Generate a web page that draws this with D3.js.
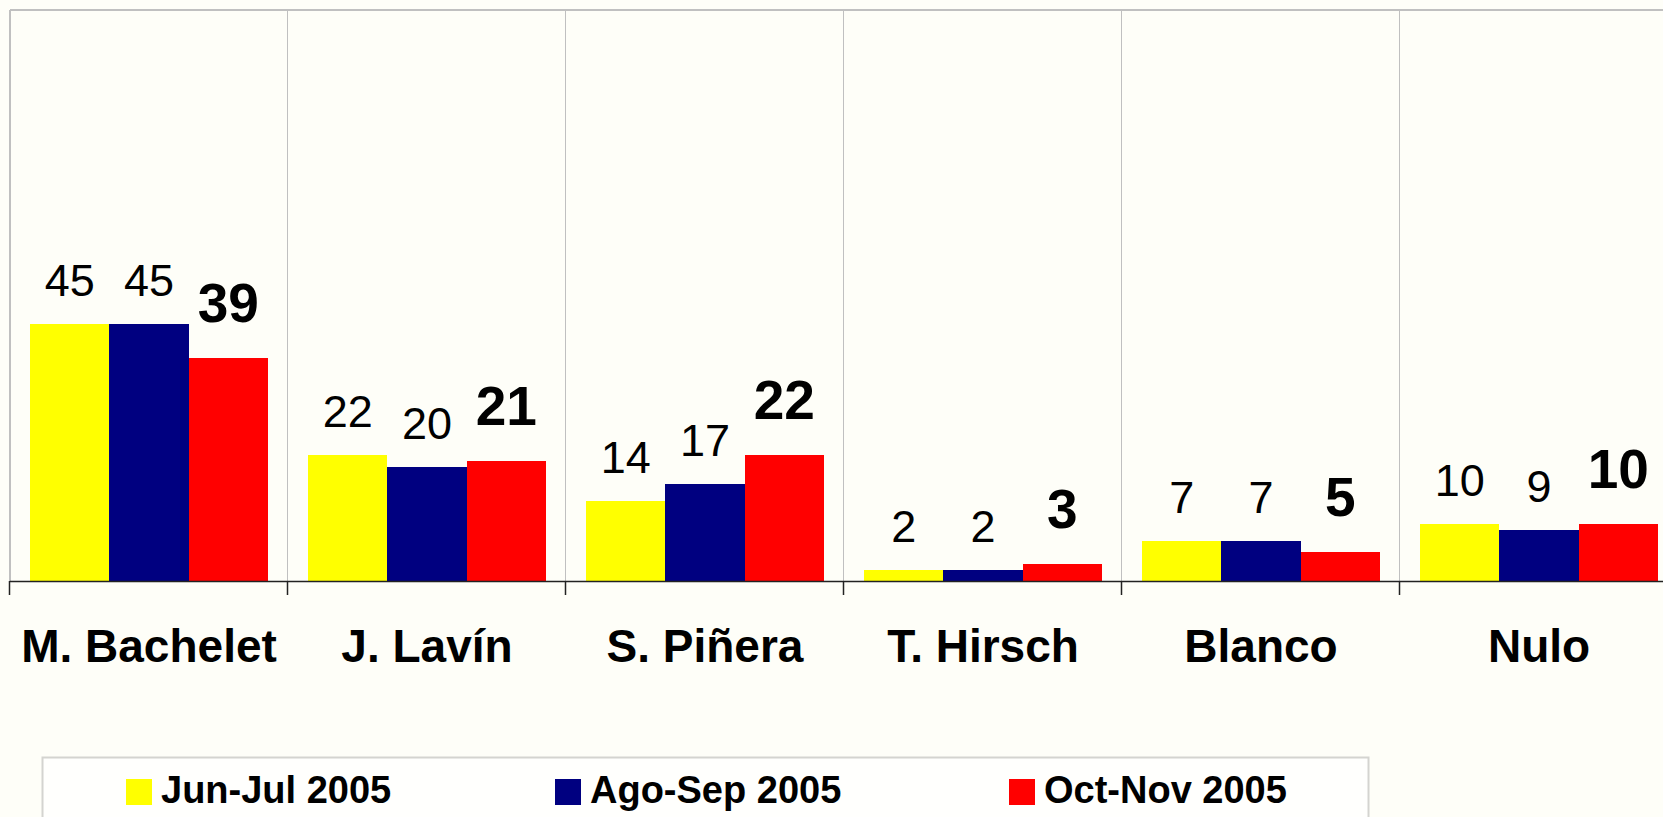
<!DOCTYPE html>
<html>
<head>
<meta charset="utf-8">
<script src="https://cdn.jsdelivr.net/npm/d3@7"></script>
<style>
  html, body { margin: 0; padding: 0; background: #FEFEF8; overflow: hidden; }
  svg { display: block; font-family: "Liberation Sans", Arial, sans-serif; }
</style>
</head>
<body>
<svg id="chart" width="1663" height="817"></svg>
<script>
// Intención de voto por candidato, tres mediciones 2005
const categories = ["M. Bachelet", "J. Lavín", "S. Piñera", "T. Hirsch", "Blanco", "Nulo"];
const seriesNames = ["Jun-Jul 2005", "Ago-Sep 2005", "Oct-Nov 2005"];
const junJul = [45, 22, 14, 2, 7, 10];
const agoSep = [45, 20, 17, 2, 7, 9];
const octNov = [39, 21, 22, 3, 5, 10];
const seriesColors = ["#FFFF00", "#000080", "#FF0000"];

const seriesValues = [junJul, agoSep, octNov];
const rows = categories.map((c, i) => ({
  cat: c,
  vals: seriesNames.map((s, k) => ({ key: s, k, value: seriesValues[k][i] }))
}));

const W = 1663, H = 817;
const plot = { left: 10, top: 10, bottom: 581, catWidth: 278 };
const plotRight = plot.left + plot.catWidth * categories.length;

const svg = d3.select("#chart");

const x0 = d3.scaleBand().domain(categories).range([plot.left, plotRight]).padding(0);
const x1 = d3.scaleBand().domain(seriesNames).range([20, x0.bandwidth() - 20]).padding(0);
const y = d3.scaleLinear().domain([0, 100]).range([plot.bottom, plot.top]);
const color = d3.scaleOrdinal().domain(seriesNames).range(seriesColors);

// plot area frame and vertical gridlines between categories
const grid = svg.append("g");
grid.append("line")
  .attr("x1", plot.left).attr("x2", W)
  .attr("y1", plot.top).attr("y2", plot.top)
  .attr("stroke", "#C0C0C0").attr("stroke-width", 2);
grid.append("line")
  .attr("x1", plot.left).attr("x2", plot.left)
  .attr("y1", plot.top).attr("y2", plot.bottom)
  .attr("stroke", "#C0C0C0").attr("stroke-width", 2);
grid.selectAll("line.v")
  .data(categories.slice(1))
  .join("line")
  .attr("class", "v")
  .attr("x1", d => Math.round(x0(d)) - 0.5).attr("x2", d => Math.round(x0(d)) - 0.5)
  .attr("y1", plot.top).attr("y2", plot.bottom)
  .attr("stroke", "#C0C0C0").attr("stroke-width", 1);

// bars
const groups = svg.append("g").selectAll("g")
  .data(rows)
  .join("g")
  .attr("transform", d => `translate(${x0(d.cat)},0)`);

groups.selectAll("rect")
  .data(d => d.vals)
  .join("rect")
  .attr("x", d => x1(d.key))
  .attr("width", x1.bandwidth())
  .attr("y", d => y(d.value))
  .attr("height", d => y(0) - y(d.value))
  .attr("fill", d => color(d.key))
  .attr("shape-rendering", "crispEdges");

// value labels (latest measurement in bold)
groups.selectAll("text")
  .data(d => d.vals)
  .join("text")
  .attr("x", d => x1(d.key) + x1.bandwidth() / 2)
  .attr("y", d => y(d.value) - (d.k === 2 ? 36 : 28))
  .attr("text-anchor", "middle")
  .attr("font-size", d => d.k === 2 ? 55 : 45)
  .attr("font-weight", d => d.k === 2 ? "bold" : "normal")
  .attr("fill", "#000")
  .text(d => d.value);

// category axis
const xAxis = d3.axisBottom(x0).tickSize(0).tickPadding(0);
const axisG = svg.append("g")
  .attr("transform", `translate(0,${plot.bottom})`)
  .call(xAxis);
axisG.select(".domain").remove();
axisG.selectAll(".tick text")
  .attr("y", 81)
  .attr("dy", 0)
  .attr("font-size", 46)
  .attr("font-weight", "bold")
  .attr("font-family", "'Liberation Sans', Arial, sans-serif")
  .attr("fill", "#000");

axisG.append("line")
  .attr("x1", plot.left).attr("x2", W)
  .attr("y1", 0.5).attr("y2", 0.5)
  .attr("stroke", "#222").attr("stroke-width", 1.5);
axisG.selectAll("line.tk")
  .data(categories)
  .join("line")
  .attr("class", "tk")
  .attr("x1", d => Math.round(x0(d)) - 0.5).attr("x2", d => Math.round(x0(d)) - 0.5)
  .attr("y1", 0).attr("y2", 14)
  .attr("stroke", "#222").attr("stroke-width", 1.5);

// legend
const legendBox = { x: 42, y: 757, w: 1326, h: 80 };
const legend = svg.append("g");
legend.append("rect")
  .attr("x", legendBox.x + 0.5).attr("y", legendBox.y + 0.5)
  .attr("width", legendBox.w).attr("height", legendBox.h)
  .attr("fill", "#FFFFFD")
  .attr("stroke", "#D4D4D0").attr("stroke-width", 2);

const legendX = [126, 555, 1009];
const items = legend.selectAll("g.item")
  .data(seriesNames)
  .join("g")
  .attr("class", "item")
  .attr("transform", (d, i) => `translate(${legendX[i]},779)`);
items.append("rect")
  .attr("width", 26).attr("height", 26)
  .attr("fill", d => color(d));
items.append("text")
  .attr("x", 35).attr("y", 24)
  .attr("font-size", 38)
  .attr("font-weight", "bold")
  .attr("fill", "#000")
  .text(d => d);
</script>
</body>
</html>
